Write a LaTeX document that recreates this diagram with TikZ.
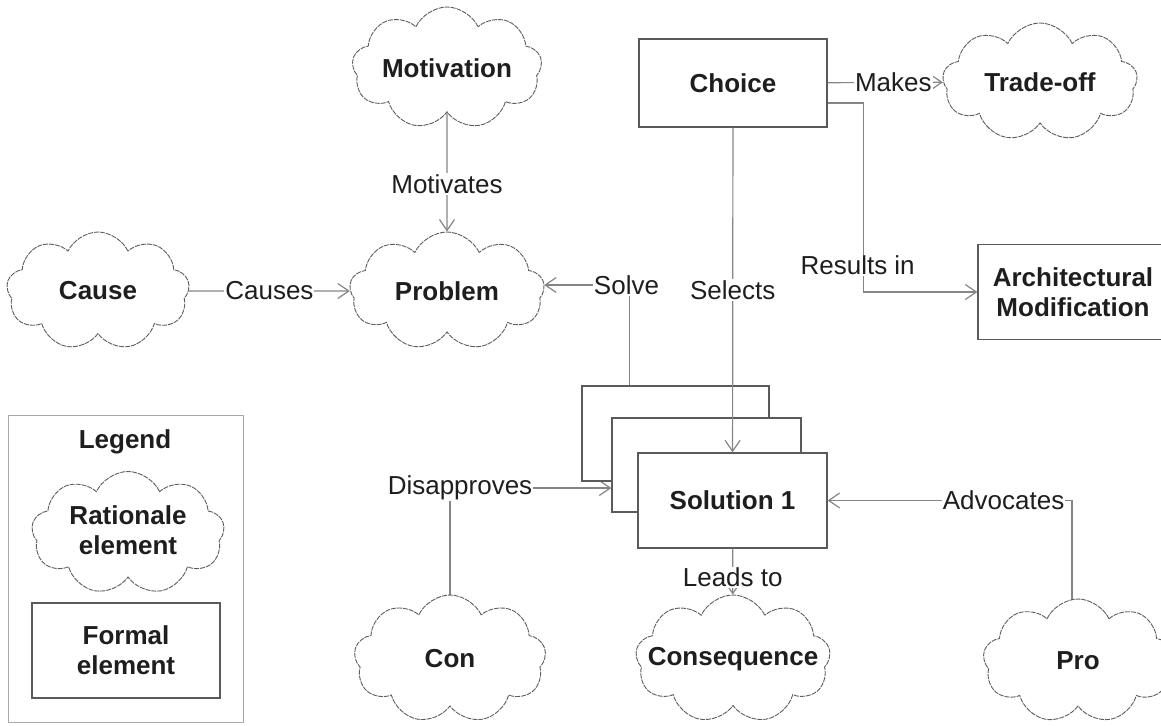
\documentclass[tikz,border=0pt]{standalone}
\usepackage{fontspec}
\setmainfont{Liberation Sans}
\usetikzlibrary{shapes.symbols,arrows.meta}
\pgfdeclarelayer{back}
\pgfsetlayers{back,main}
\definecolor{edge}{HTML}{858585}
\definecolor{frame}{HTML}{5A5A5A}
\definecolor{puff}{HTML}{5E5E5E}
\definecolor{ink}{HTML}{1E1E1E}
\definecolor{legendframe}{HTML}{A8A8A8}
% centred text that may overflow the node's own box
\newcommand{\ctext}[1]{\makebox[0pt][c]{#1}}
\newcommand{\ctwo}[2]{\makebox[0pt][c]{\begin{tabular}{@{}c@{}}#1\\#2\end{tabular}}}

\begin{document}
\begin{tikzpicture}[x=1pt,y=-1pt,
  rationale/.style={cloud, cloud puffs=9, cloud puff arc=130, cloud ignores aspect,
    draw=puff, line width=0.9pt, dash pattern=on 5pt off 1pt, fill=white,
    inner sep=0pt, font=\bfseries\fontsize{26}{30}\selectfont, text=ink},
  formal/.style={rectangle, draw=frame, line width=1.3pt, fill=white, inner sep=0pt,
    font=\bfseries\fontsize{26}{30}\selectfont, text=ink, align=center},
  link/.style={draw=edge, line width=1.2pt, -{Straight Barb[length=11pt,width=15pt]}},
  tag/.style={fill=white, inner sep=1pt, font=\fontsize{26}{30}\selectfont, text=ink}]

\useasboundingbox (0,0) rectangle (1161,725);

% upper row
\node[rationale, minimum width=190pt, minimum height=122pt] (mot) at (447,68) {\ctext{Motivation}};
\node[formal, minimum width=188pt, minimum height=88pt] (choice) at (733,83) {Choice};
\node[rationale, minimum width=195pt, minimum height=118pt] (trade) at (1040,82) {\ctext{Trade-off}};

% middle row
\node[rationale, minimum width=183pt, minimum height=118pt] (cause) at (98,291) {\ctext{Cause}};
\node[rationale, minimum width=195pt, minimum height=118pt] (prob) at (447,291) {\ctext{Problem}};
\node[formal, minimum width=190pt, minimum height=95pt] (arch) at (1073,292) {Architectural\\Modification};

% stacked solutions, back to front
\node[formal, minimum width=187pt, minimum height=95pt] (solB) at (675.5,433.5) {};
\node[formal, minimum width=189pt, minimum height=94pt] (solM) at (706.5,465) {};
\node[formal, minimum width=189pt, minimum height=95pt] (sol) at (732.5,500.5) {Solution 1};

% lower row
\node[rationale, minimum width=192pt, minimum height=128pt] (con) at (450,659) {\ctext{Con}};
\node[rationale, minimum width=195pt, minimum height=128pt] (conseq) at (733,659) {\ctext{Consequence}};
\node[rationale, minimum width=190pt, minimum height=124pt] (pro) at (1078,661) {\ctext{Pro}};

% legend
\node[draw=legendframe, line width=1pt, minimum width=235pt, minimum height=307pt] (legend) at (125.5,568.5) {};
\node[font=\bfseries\fontsize{26}{30}\selectfont, text=ink] (legtitle) at (125,442) {Legend};
\node[rationale, minimum width=193pt, minimum height=123pt] (legcloud) at (128,533) {\ctwo{Rationale}{element}};
\node[formal, minimum width=188pt, minimum height=95pt] (legbox) at (126,650.5) {Formal\\element};

% relations
\draw[link] (mot) -- node[tag,pos=0.6]{Motivates} (prob);
\draw[link] (cause) -- node[tag]{Causes} (prob);
\draw[link] ([xshift=-46pt]solB.north) |- node[tag,pos=0.5,xshift=-3pt]{Solve} ([yshift=6pt]prob.east);
\draw[link] (choice) -- node[tag]{Selects} (sol);
\draw[link] (choice) -- node[tag,xshift=8pt]{Makes} (trade);
\draw[link] ([yshift=-20pt]choice.east) -- ++(36,0) |- node[tag,pos=0.43,xshift=-6pt]{Results in} (arch.west);
\draw[link] (sol) -- node[tag,pos=0.62]{Leads to} (conseq);

\begin{pgfonlayer}{back}
\draw[link] (con.center) |- node[tag,pos=0.5,xshift=10pt]{Disapproves} ([yshift=-23pt]solM.west);
\draw[link] ([xshift=-6pt]pro.center) |- node[tag,pos=0.64]{Advocates} (sol.east);
\end{pgfonlayer}
\end{tikzpicture}
\end{document}
